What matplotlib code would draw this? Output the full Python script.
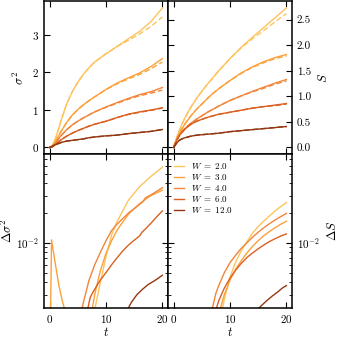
import numpy as np
import matplotlib
matplotlib.use("Agg")
import matplotlib.pyplot as plt

plt.rcParams["font.family"] = "serif"
plt.rcParams["font.serif"] = ["cmr10", "DejaVu Serif"]
plt.rcParams["mathtext.fontset"] = "cm"
plt.rcParams["axes.formatter.use_mathtext"] = True
plt.rcParams["font.size"] = 8

# disorder strengths and colours
W_values = [2.0, 3.0, 4.0, 6.0, 12.0]
colors = ["#fdc45c", "#fca13a", "#f2853a", "#db6020", "#943811"]

# time grid of the top panels
t_top = [0, 0.5, 1, 1.5, 2, 3, 4, 5, 6, 7, 8, 10, 12, 14, 16, 18, 20]

# variance sigma^2 (solid) and approximation (dashed)
sigma2 = [
    [0, 0.06, 0.22, 0.45, 0.70, 1.15, 1.48, 1.74, 1.95, 2.13, 2.28, 2.50, 2.70, 2.90, 3.10, 3.36, 3.72],
    [0, 0.04, 0.14, 0.28, 0.42, 0.66, 0.86, 1.01, 1.14, 1.25, 1.35, 1.55, 1.72, 1.86, 1.99, 2.16, 2.37],
    [0, 0.03, 0.11, 0.21, 0.31, 0.47, 0.60, 0.70, 0.79, 0.87, 0.95, 1.08, 1.20, 1.31, 1.41, 1.49, 1.60],
    [0, 0.02, 0.08, 0.14, 0.20, 0.30, 0.38, 0.45, 0.51, 0.57, 0.62, 0.70, 0.80, 0.89, 0.95, 1.00, 1.06],
    [0, 0.03, 0.07, 0.10, 0.13, 0.17, 0.19, 0.21, 0.23, 0.26, 0.28, 0.31, 0.33, 0.37, 0.40, 0.43, 0.48],
]
sigma2_approx = [
    [0, 0.06, 0.22, 0.45, 0.70, 1.15, 1.48, 1.74, 1.95, 2.13, 2.28, 2.50, 2.69, 2.86, 3.03, 3.23, 3.48],
    [0, 0.04, 0.14, 0.28, 0.42, 0.66, 0.86, 1.01, 1.14, 1.25, 1.35, 1.54, 1.70, 1.83, 1.95, 2.10, 2.28],
    [0, 0.03, 0.11, 0.21, 0.31, 0.47, 0.60, 0.70, 0.79, 0.87, 0.95, 1.07, 1.18, 1.29, 1.38, 1.45, 1.53],
    [0, 0.02, 0.08, 0.14, 0.20, 0.30, 0.38, 0.45, 0.51, 0.57, 0.62, 0.70, 0.80, 0.88, 0.94, 0.99, 1.05],
    [0, 0.03, 0.07, 0.10, 0.13, 0.17, 0.19, 0.21, 0.23, 0.26, 0.28, 0.31, 0.33, 0.37, 0.40, 0.43, 0.48],
]

# entropy S (solid) and approximation (dashed)
entropy = [
    [0, 0.18, 0.33, 0.46, 0.58, 0.78, 0.95, 1.10, 1.24, 1.37, 1.50, 1.74, 1.96, 2.16, 2.35, 2.54, 2.73],
    [0, 0.15, 0.27, 0.37, 0.46, 0.61, 0.74, 0.85, 0.96, 1.06, 1.15, 1.31, 1.46, 1.58, 1.68, 1.76, 1.82],
    [0, 0.14, 0.24, 0.31, 0.37, 0.47, 0.55, 0.62, 0.69, 0.75, 0.81, 0.92, 1.01, 1.10, 1.18, 1.26, 1.33],
    [0, 0.13, 0.23, 0.30, 0.36, 0.45, 0.51, 0.55, 0.59, 0.62, 0.65, 0.69, 0.73, 0.77, 0.80, 0.83, 0.86],
    [0, 0.08, 0.14, 0.17, 0.19, 0.22, 0.24, 0.25, 0.26, 0.27, 0.28, 0.31, 0.33, 0.35, 0.37, 0.39, 0.41],
]
entropy_approx = [
    [0, 0.18, 0.33, 0.46, 0.58, 0.78, 0.95, 1.10, 1.24, 1.37, 1.50, 1.74, 1.95, 2.13, 2.29, 2.46, 2.62],
    [0, 0.15, 0.27, 0.37, 0.46, 0.61, 0.74, 0.85, 0.96, 1.06, 1.15, 1.31, 1.45, 1.57, 1.66, 1.74, 1.79],
    [0, 0.14, 0.24, 0.31, 0.37, 0.47, 0.55, 0.62, 0.69, 0.75, 0.81, 0.92, 1.01, 1.09, 1.16, 1.24, 1.30],
    [0, 0.13, 0.23, 0.30, 0.36, 0.45, 0.51, 0.55, 0.59, 0.62, 0.65, 0.69, 0.73, 0.77, 0.80, 0.82, 0.85],
    [0, 0.08, 0.14, 0.17, 0.19, 0.22, 0.24, 0.25, 0.26, 0.27, 0.28, 0.31, 0.33, 0.35, 0.37, 0.39, 0.41],
]

# differences Delta sigma^2 (nan breaks the line)
dsig_t = [
    [8.0, 9, 10, 11, 12, 14, 16, 18, 20],
    [0.1, 0.35, 0.7, 1.07, 1.66, 2.25, 2.8, 3.2, 5.0, 7.6, 8, 9, 10, 11, 12, 14, 16, 18, 20],
    [5.6, 6, 7, 8, 9, 10, 11, 12, 14, 16, 16.6, 17, 18, 20],
    [6.8, 7.2, 7.6, 8, 9, 10, 11, 12, 13, 14, 15, 16, 16.4, 17, 18, 19, 20],
    [13.8, 14.5, 15.5, 16.5, 17.5, 18.5, 19.3, 20],
]
dsig = [
    [0.0021, 0.0040, 0.0072, 0.0120, 0.0165, 0.0270, 0.0370, 0.0470, 0.0580],
    [0.0010, 0.0107, 0.0080, 0.0059, 0.0037, 0.0026, 0.0020, 0.0015, np.nan,
     0.0022, 0.0030, 0.0052, 0.0078, 0.0105, 0.0135, 0.0195, 0.0250, 0.0300, 0.0340],
    [0.0020, 0.0025, 0.0042, 0.0060, 0.0080, 0.0105, 0.0133, 0.0155, 0.0200, 0.0245,
     0.0262, 0.0285, 0.0305, 0.0360],
    [0.0022, 0.0028, 0.0031, 0.0034, 0.0042, 0.0050, 0.0060, 0.0071, 0.0083, 0.0095,
     0.0106, 0.0118, 0.0128, 0.0138, 0.0158, 0.0183, 0.0210],
    [0.0021, 0.0025, 0.0030, 0.0034, 0.0038, 0.0041, 0.0044, 0.0047],
]

# differences Delta S
dS_t = [
    [8.6, 9, 10, 11, 12, 13, 14, 15, 16, 17, 18, 19, 20],
    [8.2, 9, 10, 11, 12, 13, 14, 15, 16, 17, 18, 19, 20],
    [6.8, 7.5, 8, 9, 10, 11, 12, 13, 14, 15, 16, 17, 18, 19, 20],
    [7.5, 8, 9, 10, 11, 12, 13, 14, 15, 16, 17, 18, 19, 20],
    [14.8, 15.5, 16.5, 17.5, 18.5, 19.3, 20],
]
dS = [
    [0.0021, 0.0027, 0.0045, 0.0064, 0.0083, 0.0103, 0.0125, 0.0146, 0.0166, 0.0187,
     0.0210, 0.0232, 0.0255],
    [0.0021, 0.0030, 0.0042, 0.0054, 0.0066, 0.0079, 0.0092, 0.0105, 0.0118, 0.0130,
     0.0142, 0.0154, 0.0165],
    [0.0021, 0.0031, 0.0037, 0.0050, 0.0063, 0.0075, 0.0088, 0.0100, 0.0114, 0.0128,
     0.0142, 0.0156, 0.0170, 0.0184, 0.0198],
    [0.0021, 0.0026, 0.0035, 0.0044, 0.0053, 0.0062, 0.0071, 0.0079, 0.0087, 0.0095,
     0.0103, 0.0110, 0.0117, 0.0123],
    [0.0021, 0.0023, 0.0026, 0.0029, 0.0032, 0.0035, 0.0037],
]

fig, axes = plt.subplots(2, 2, figsize=(3.38, 3.38), dpi=100, sharex=True)
fig.subplots_adjust(left=0.130, right=0.864, top=0.997, bottom=0.089, wspace=0, hspace=0)
ax_s2, ax_S = axes[0]
ax_ds2, ax_dS = axes[1]

lw = 1.0
for i, W in enumerate(W_values):
    c = colors[i]
    ax_s2.plot(t_top, sigma2[i], color=c, lw=lw)
    ax_s2.plot(t_top, sigma2_approx[i], color=c, lw=lw, ls=(0, (4, 2)))
    ax_S.plot(t_top, entropy[i], color=c, lw=lw)
    ax_S.plot(t_top, entropy_approx[i], color=c, lw=lw, ls=(0, (4, 2)))
    ax_ds2.plot(dsig_t[i], dsig[i], color=c, lw=lw)
    ax_dS.plot(dS_t[i], dS[i], color=c, lw=lw, label=rf"$W\ =\ {W:.1f}$")

ax_s2.set_ylabel(r"$\sigma^2$", fontsize=9)
ax_s2.set_yticks([0, 1, 2, 3])

ax_S.set_ylabel(r"$S$", fontsize=9)
ax_S.yaxis.set_label_position("right")
ax_S.yaxis.tick_right()
ax_S.set_yticks([0, 0.5, 1.0, 1.5, 2.0, 2.5])
ax_S.set_yticklabels(["0.0", "0.5", "1.0", "1.5", "2.0", "2.5"])

for ax in (ax_ds2, ax_dS):
    ax.set_yscale("log")
    ax.set_ylim(2.2e-3, 7.8e-2)
    ax.set_xlabel(r"$t$", fontsize=9, labelpad=1)

ax_ds2.set_ylabel(r"$\Delta\sigma^2$", fontsize=9, labelpad=1)
ax_dS.set_ylabel(r"$\Delta S$", fontsize=9)
ax_dS.yaxis.set_label_position("right")
ax_dS.yaxis.tick_right()

ax_s2.set_xlim(-1, 21)
ax_s2.set_xticks([0, 10, 20])

for ax in axes.flat:
    ax.tick_params(which="both", direction="in", top=True, bottom=True,
                   left=True, right=True, labelsize=8)
    ax.tick_params(which="major", length=4, width=0.8)
    ax.tick_params(which="minor", length=2, width=0.6)
    for sp in ax.spines.values():
        sp.set_linewidth(1.1)
ax_S.tick_params(labelleft=False, labelright=True)
ax_dS.tick_params(labelleft=False, labelright=True)

ax_dS.legend(loc="upper left", frameon=False, fontsize=6.5, handlelength=1.1,
             handletextpad=0.7, labelspacing=0.12, borderaxespad=0.3)

fig.savefig("out.png", dpi=100)
